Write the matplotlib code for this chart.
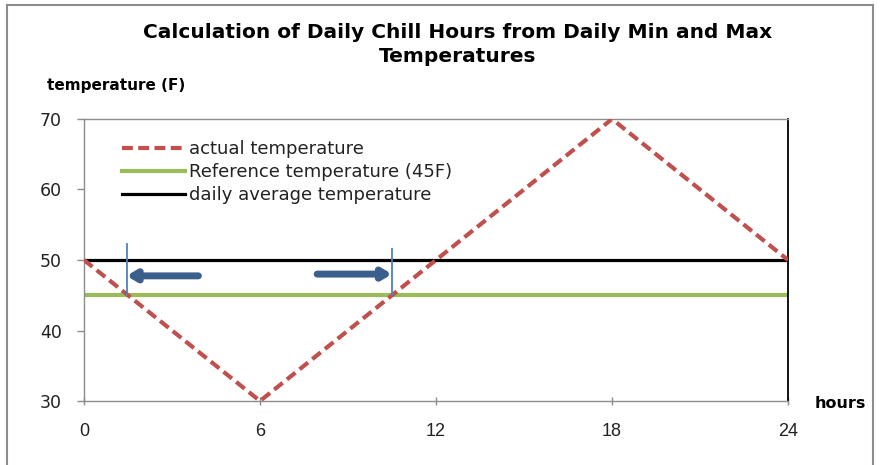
import matplotlib
matplotlib.use('Agg')
import matplotlib.pyplot as plt
from matplotlib.lines import Line2D

# Data
hours = [0, 6, 18, 24]
actual_temp = [50, 30, 70, 50]
reference_temp = 45
average_temp = 50
chill_edges = [1.45, 10.5]         # where the actual temperature crosses 45F
marker_tops = [52.2, 51.5]         # top of the blue vertical markers
arrow_left = (3.9, 1.45, 47.75)    # tail x, head x, y
arrow_right = (7.95, 10.5, 48.0)
x_ticks = [0, 6, 12, 18, 24]
y_ticks = [30, 40, 50, 60, 70]

red = '#C0504D'
green = '#9BBB59'
blue = '#4F81BD'
arrow_blue = '#3B5F8C'

fig = plt.figure(figsize=(8.8, 4.65), dpi=100)
ax = fig.add_axes([84/880, 1 - 401/465, 704/880, 282/465])

ax.plot(hours, actual_temp, color=red, linewidth=3.0, linestyle=(0, (2.6, 1.3)),
        label='actual temperature', zorder=3)
ax.axhline(reference_temp, color=green, linewidth=3.0, label='Reference temperature (45F)', zorder=2)
ax.axhline(average_temp, color='black', linewidth=2.3, label='daily average temperature', zorder=2)

# chill-hour markers
for x, top in zip(chill_edges, marker_tops):
    ax.plot([x, x], [reference_temp, top], color=blue, linewidth=1.3, zorder=4)

for tail, head, y in [arrow_left, arrow_right]:
    ax.annotate('', xy=(head, y), xytext=(tail, y),
                arrowprops=dict(arrowstyle='-|>,head_length=0.5,head_width=0.3',
                                color=arrow_blue, linewidth=5, shrinkA=0, shrinkB=0),
                zorder=5)

ax.set_xlim(0, 24)
ax.set_ylim(30, 70)
ax.set_xticks(x_ticks)
ax.set_yticks(y_ticks)

for s in ['left', 'top', 'bottom']:
    ax.spines[s].set_color('#8c8c8c')
    ax.spines[s].set_linewidth(1.0)
ax.spines['right'].set_color('black')
ax.spines['right'].set_linewidth(1.3)

ax.tick_params(axis='y', direction='out', length=5, width=1, color='#8c8c8c',
               pad=11, labelsize=12.5, labelcolor='#222222')
ax.tick_params(axis='x', direction='inout', length=6, width=1, color='#8c8c8c',
               pad=13, labelsize=13, labelcolor='#222222')
for lbl in ax.get_xticklabels():
    lbl.set_family(['Liberation Sans', 'DejaVu Sans'])

leg = ax.legend(loc='upper left', bbox_to_anchor=(0.054, 0.926), frameon=False,
                fontsize=13, handlelength=3.5, handletextpad=0.2,
                labelspacing=0.28, borderaxespad=0, borderpad=0)
for t in leg.get_texts():
    t.set_color('#222222')

fig.text(458/880, 1 - 32/465, 'Calculation of Daily Chill Hours from Daily Min and Max',
         ha='center', va='center', fontsize=14.5, fontweight='bold', family='DejaVu Sans')
fig.text(458/880, 1 - 57/465, 'Temperatures',
         ha='center', va='center', fontsize=14.5, fontweight='bold', family='DejaVu Sans')
fig.text(47/880, 1 - 85/465, 'temperature (F)', ha='left', va='center',
         fontsize=11, fontweight='bold', family='DejaVu Sans')
fig.text(815/880, 1 - 404/465, 'hours', ha='left', va='center',
         fontsize=11.5, fontweight='bold', family='DejaVu Sans')

# outer chart frame
frame_color = '#8c8c8c'
fig.add_artist(Line2D([7/880, 7/880], [0, 1 - 5/465], transform=fig.transFigure,
                      color=frame_color, linewidth=1.5))
fig.add_artist(Line2D([7/880, 873/880], [1 - 5/465, 1 - 5/465], transform=fig.transFigure,
                      color=frame_color, linewidth=1.5))
fig.add_artist(Line2D([873/880, 873/880], [0, 1 - 5/465], transform=fig.transFigure,
                      color=frame_color, linewidth=1.5))

fig.savefig('out.png', dpi=100)
